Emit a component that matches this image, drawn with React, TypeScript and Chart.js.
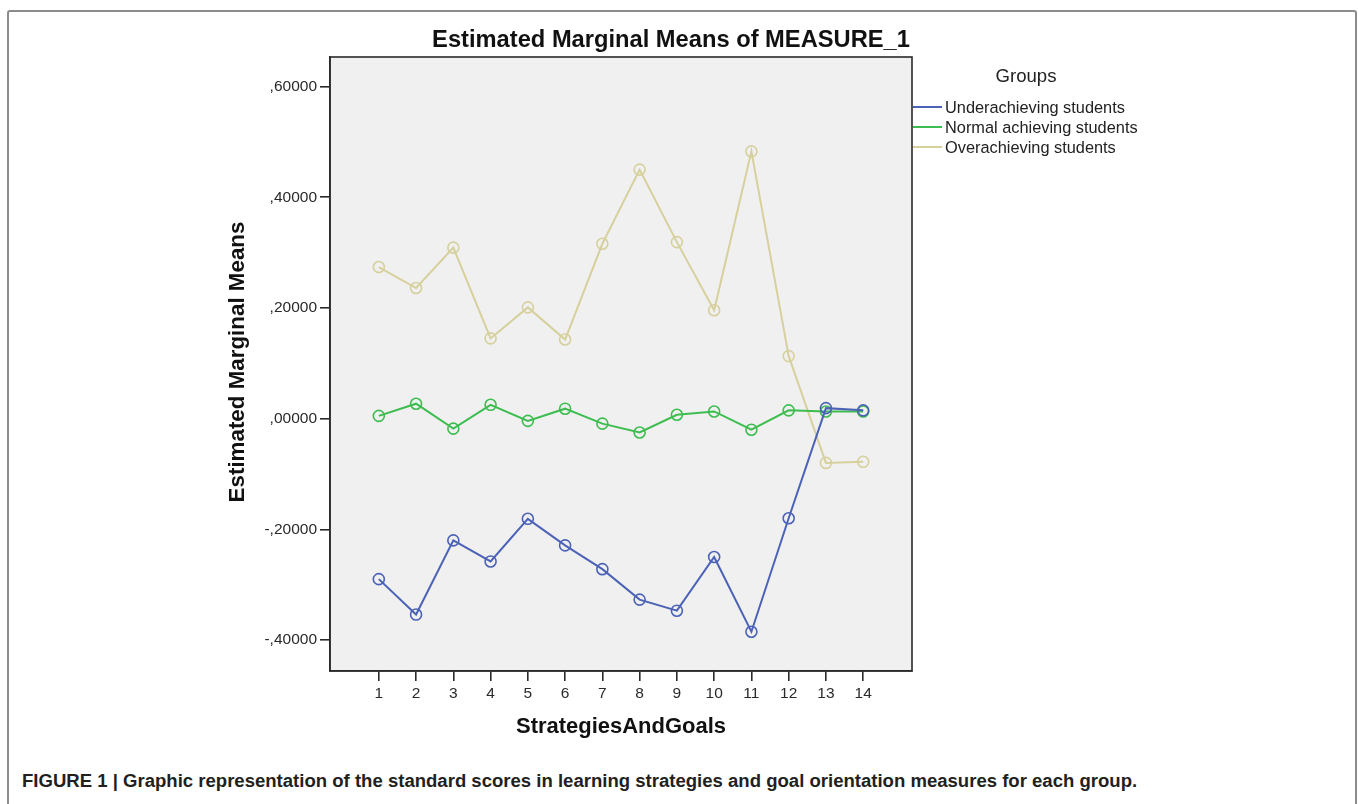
import React, { useEffect, useRef } from "react";
import { Chart, registerables } from "chart.js";

Chart.register(...registerables);

const categories = [1, 2, 3, 4, 5, 6, 7, 8, 9, 10, 11, 12, 13, 14];
const underachieving = [-0.29, -0.354, -0.22, -0.258, -0.181, -0.229, -0.272, -0.327, -0.347, -0.25, -0.385, -0.18, 0.019, 0.015];
const normalAchieving = [0.005, 0.027, -0.018, 0.025, -0.004, 0.018, -0.009, -0.025, 0.007, 0.013, -0.02, 0.015, 0.013, 0.013];
const overachieving = [0.274, 0.236, 0.309, 0.145, 0.201, 0.143, 0.316, 0.45, 0.319, 0.196, 0.483, 0.113, -0.08, -0.078];
const yTickValues = [-0.4, -0.2, 0, 0.2, 0.4, 0.6];
const seriesNames = ["Underachieving students", "Normal achieving students", "Overachieving students"];
const seriesColors = ["#4b62b6", "#3dbd4f", "#d6d09c"];

const FONT = "'Liberation Sans', Arial, sans-serif";

function fitFont(ctx: CanvasRenderingContext2D, text: string, target: number, weight: string) {
  ctx.font = `${weight} 100px ${FONT}`;
  const w = ctx.measureText(text).width;
  const size = (100 * target) / w;
  return `${weight} ${size.toFixed(2)}px ${FONT}`;
}

const fmt = (v: number) => {
  const s = Math.abs(v).toFixed(5).replace("0.", ",");
  return (v < -1e-9 ? "-" : "") + s;
};

const decorPlugin = {
  id: "decor",
  beforeDraw(chart: any) {
    const { ctx, chartArea } = chart;
    ctx.save();
    ctx.fillStyle = "#f0f0f0";
    ctx.fillRect(chartArea.left, chartArea.top, chartArea.right - chartArea.left, chartArea.bottom - chartArea.top);
    ctx.restore();
  },
  afterDraw(chart: any) {
    const { ctx, chartArea } = chart;
    ctx.save();
    ctx.strokeStyle = "#2a2a2a";
    ctx.lineWidth = 1.6;
    ctx.strokeRect(chartArea.left, chartArea.top, chartArea.right - chartArea.left, chartArea.bottom - chartArea.top);

    ctx.fillStyle = "#111";
    ctx.textAlign = "center";
    ctx.textBaseline = "middle";
    const title = "Estimated Marginal Means of MEASURE_1";
    ctx.font = fitFont(ctx, title, 478, "bold");
    ctx.fillText(title, 671, 40);
    const xt = "StrategiesAndGoals";
    ctx.font = fitFont(ctx, xt, 210, "bold");
    ctx.fillText(xt, 621, 727);
    const yt = "Estimated Marginal Means";
    ctx.save();
    ctx.translate(238, 362);
    ctx.rotate(-Math.PI / 2);
    ctx.font = fitFont(ctx, yt, 281, "bold");
    ctx.fillText(yt, 0, 0);
    ctx.restore();

    ctx.fillStyle = "#222";
    const lg = "Groups";
    ctx.font = fitFont(ctx, lg, 61, "normal");
    ctx.fillText(lg, 1026, 77);
    const legendFont = fitFont(ctx, seriesNames[0], 180, "normal");
    ctx.textAlign = "left";
    seriesNames.forEach((name, i) => {
      const y = 107 + i * 20;
      ctx.strokeStyle = seriesColors[i];
      ctx.lineWidth = 2;
      ctx.beginPath();
      ctx.moveTo(913, y);
      ctx.lineTo(942, y);
      ctx.stroke();
      ctx.font = legendFont;
      ctx.fillStyle = "#222";
      ctx.fillText(name, 945, y + 1);
    });
    ctx.restore();
  },
};

export default function App() {
  const ref = useRef<HTMLCanvasElement | null>(null);
  const capRef = useRef<HTMLDivElement | null>(null);

  useEffect(() => {
    if (capRef.current) {
      const el = capRef.current;
      el.style.fontSize = "16px";
      const w = el.getBoundingClientRect().width;
      if (w > 0) el.style.fontSize = ((16 * 1116) / w).toFixed(2) + "px";
    }
    if (!ref.current) return;
    const series = [underachieving, normalAchieving, overachieving];
    const chart = new Chart(ref.current, {
      type: "line",
      data: {
        datasets: series.map((vals, i) => ({
          label: seriesNames[i],
          data: vals.map((v, j) => ({ x: categories[j], y: v })),
          borderColor: seriesColors[i],
          backgroundColor: "transparent",
          borderWidth: 2,
          pointRadius: 5.5,
          pointBorderWidth: 1.6,
          pointBorderColor: seriesColors[i],
          pointBackgroundColor: "transparent",
          tension: 0,
          fill: false,
        })),
      },
      options: {
        animation: false,
        responsive: false,
        layout: { padding: { left: 230, right: 446, top: 57, bottom: 29 } },
        plugins: { legend: { display: false }, title: { display: false }, tooltip: { enabled: false } },
        scales: {
          x: {
            type: "linear",
            min: -0.31,
            max: 15.31,
            afterBuildTicks: (scale: any) => {
              scale.ticks = categories.map((v) => ({ value: v }));
            },
            afterFit: (scale: any) => {
              scale.height = 60;
            },
            grid: { drawOnChartArea: false, drawTicks: true, tickLength: 10, color: "#2a2a2a", lineWidth: 1.6 },
            border: { display: true, color: "#2a2a2a", width: 1.6 },
            ticks: {
              padding: 3,
              autoSkip: false,
              maxRotation: 0,
              color: "#2a2a2a",
              font: { family: FONT, size: 15.5 },
              callback: (v: any) => String(v),
            },
          },
          y: {
            type: "linear",
            min: -0.456,
            max: 0.6535,
            afterBuildTicks: (scale: any) => {
              scale.ticks = yTickValues.map((v) => ({ value: v }));
            },
            afterFit: (scale: any) => {
              scale.width = 100;
            },
            grid: { drawOnChartArea: false, drawTicks: true, tickLength: 10, color: "#2a2a2a", lineWidth: 1.6 },
            border: { display: true, color: "#2a2a2a", width: 1.6 },
            ticks: {
              padding: 3,
              color: "#2a2a2a",
              font: { family: FONT, size: 15.5 },
              callback: (v: any) => fmt(Number(v)),
            },
          },
        },
      },
      plugins: [decorPlugin],
    } as any);
    return () => chart.destroy();
  }, []);

  return (
    <div style={{ position: "fixed", left: 0, top: 0, width: 1358, height: 804, overflow: "hidden", background: "#fff" }}>
      <div
        style={{
          position: "absolute",
          left: 7,
          top: 10,
          width: 1346,
          height: 820,
          border: "2px solid #8c8c8c",
          borderRadius: 3,
        }}
      />
      <canvas ref={ref} width={1358} height={760} style={{ position: "absolute", left: 0, top: 0, width: 1358, height: 760 }} />
      <div
        ref={capRef}
        style={{
          position: "absolute",
          left: 22,
          top: 771,
          fontFamily: FONT,
          fontWeight: "bold",
          fontSize: 16,
          lineHeight: "20px",
          color: "#231f20",
          whiteSpace: "nowrap",
        }}
      >
        FIGURE 1 | Graphic representation of the standard scores in learning strategies and goal orientation measures for each group.
      </div>
    </div>
  );
}
